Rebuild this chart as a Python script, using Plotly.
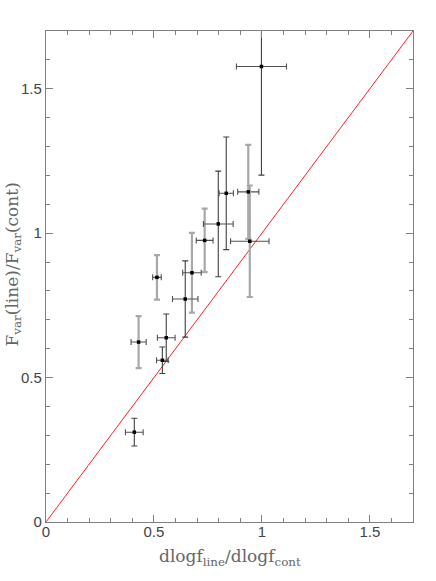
import plotly.graph_objects as go

# data: x, y, errors; group: 'L' light vertical bar, 'D' dark vertical bar
x_vals = [0.998, 0.835, 0.937, 0.944, 0.798, 0.735, 0.676, 0.645, 0.514, 0.429, 0.557, 0.539, 0.409]
y_vals = [1.577, 1.138, 1.143, 0.972, 1.032, 0.975, 0.863, 0.772, 0.847, 0.623, 0.638, 0.560, 0.311]
x_err = [0.116, 0.033, 0.049, 0.089, 0.069, 0.039, 0.043, 0.059, 0.020, 0.035, 0.041, 0.027, 0.041]
y_err = [0.376, 0.195, 0.163, 0.193, 0.183, 0.110, 0.138, 0.132, 0.077, 0.090, 0.082, 0.046, 0.048]
groups = ['D', 'D', 'L', 'L', 'D', 'L', 'L', 'D', 'L', 'L', 'D', 'D', 'D']

line_x = [0, 1.7]
line_y = [0, 1.7]

fig = go.Figure()

fig.add_trace(go.Scatter(x=line_x, y=line_y, mode='lines',
                         line=dict(color='#ff2020', width=1), showlegend=False, hoverinfo='skip'))

for g, vcol, vth in [('L', '#a8a8a8', 2.2), ('D', '#404040', 1.1)]:
    idx = [i for i, gg in enumerate(groups) if gg == g]
    fig.add_trace(go.Scatter(
        x=[x_vals[i] for i in idx], y=[y_vals[i] for i in idx], mode='markers',
        marker=dict(symbol='square', size=3.5, color='black'),
        error_x=dict(type='data', array=[x_err[i] for i in idx], color='#505050', thickness=1.1, width=3),
        error_y=dict(type='data', array=[y_err[i] for i in idx], color=vcol, thickness=vth, width=3),
        showlegend=False, cliponaxis=True))

axis_common = dict(
    showline=True, linecolor='#808080', linewidth=1.2, mirror='allticks',
    ticks='inside', ticklen=7, tickcolor='#808080', tickwidth=1,
    showgrid=False, zeroline=False, automargin=False,
    tickfont=dict(family='Liberation Sans', size=15, color='#444444'),
    minor=dict(ticks='inside', ticklen=4, tickcolor='#808080', dtick=0.1, showgrid=False),
    range=[0, 1.7], tickvals=[0, 0.5, 1, 1.5], ticktext=['0', '0.5', '1', '1.5'],
)

fig.update_layout(
    width=436, height=581,
    margin=dict(l=46, r=23, t=31, b=59),
    plot_bgcolor='white', paper_bgcolor='white',
    xaxis=dict(axis_common, ticklabelstandoff=-4),
    yaxis=axis_common,
)

fig.add_annotation(text='dlogf<sub>line</sub>/dlogf<sub>cont</sub>', xref='paper', yref='paper',
                   x=0.5, y=0, yshift=-35, xanchor='center', yanchor='middle', showarrow=False,
                   font=dict(family='DejaVu Serif', size=17, color='#666666'))
fig.add_annotation(text='F<sub>var</sub>(line)/F<sub>var</sub>(cont)', xref='paper', yref='paper',
                   x=0, y=0.5, xshift=-33, yshift=12, xanchor='center', yanchor='middle', showarrow=False,
                   textangle=-90,
                   font=dict(family='DejaVu Serif', size=17, color='#666666'))

fig.write_html('out.html', config={'displayModeBar': False},
               post_script="document.body.style.margin='0px';")
